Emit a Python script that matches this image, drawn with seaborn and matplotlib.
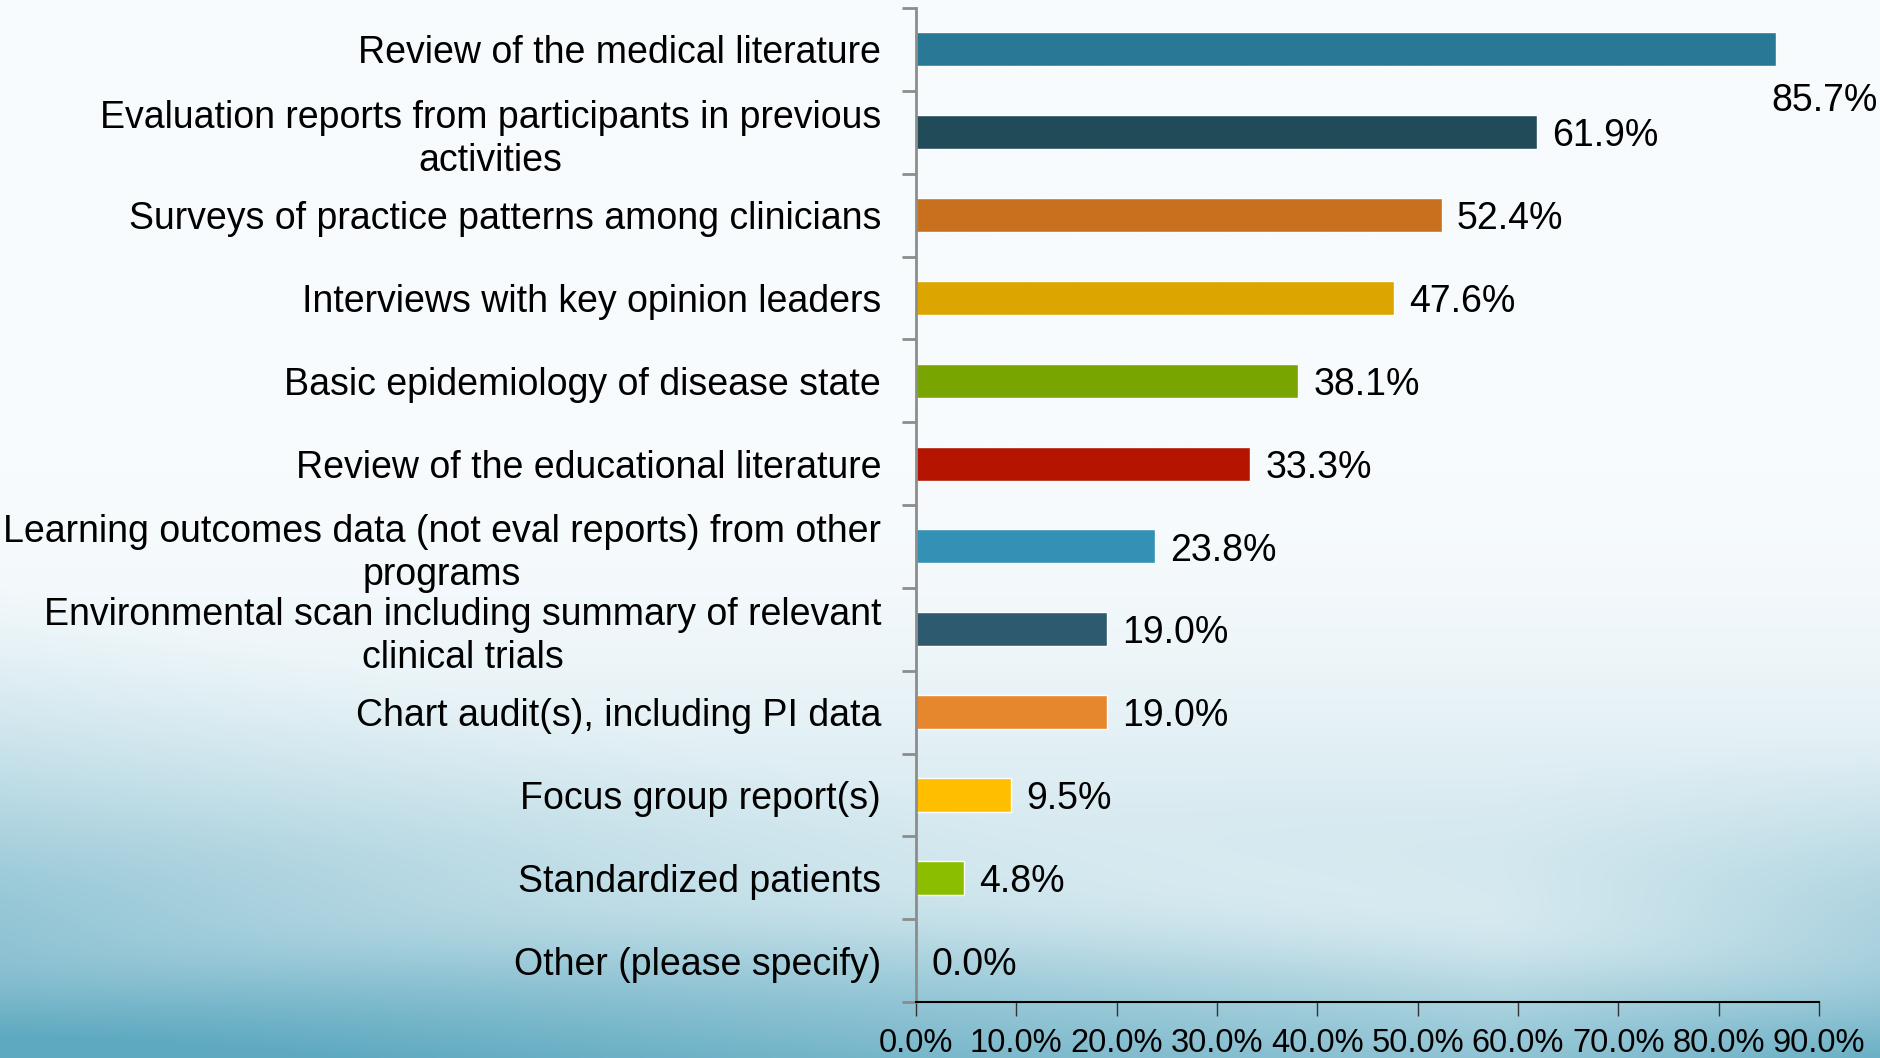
import numpy as np
import pandas as pd
import matplotlib.pyplot as plt
import matplotlib.colors as mcolors
import seaborn as sns

sns.set_theme(style="white")
plt.rcParams['font.family'] = ['Liberation Sans', 'DejaVu Sans']
plt.rcParams['text.color'] = 'black'

# Data
categories = [
    "Review of the medical literature",
    "Evaluation reports from participants in previous\nactivities",
    "Surveys of practice patterns among clinicians",
    "Interviews with key opinion leaders",
    "Basic epidemiology of disease state",
    "Review of the educational literature",
    "Learning outcomes data (not eval reports) from other\nprograms",
    "Environmental scan including summary of relevant\nclinical trials",
    "Chart audit(s), including PI data",
    "Focus group report(s)",
    "Standardized patients",
    "Other (please specify)",
]
values = [85.7, 61.9, 52.4, 47.6, 38.1, 33.3, 23.8, 19.0, 19.0, 9.5, 4.8, 0.0]
bar_colors = ["#287896", "#224b5a", "#c8701e", "#dca500", "#78a500", "#b41400",
              "#3291b4", "#2d5a6e", "#e6872d", "#ffbe00", "#8cbe00", "#3291b4"]
x_ticks = [0, 10, 20, 30, 40, 50, 60, 70, 80, 90]

df = pd.DataFrame({"category": categories, "value": values})

fig = plt.figure(figsize=(18.8, 10.58), dpi=100)

# slide-style background gradient
bg = fig.add_axes([0, 0, 1, 1], zorder=-10)
h, w = 300, 530
yy, xx = np.mgrid[0:1:complex(0, h), 0:1:complex(0, w)]
base = np.clip((yy - 0.45) / 0.55, 0, 1) ** 1.8 * 0.55
# darker sweep in the bottom-left corner, lighter swoosh across the middle
corner = np.clip((yy - 0.55) / 0.45 - xx * 0.9, 0, 1) ** 1.2 * 0.55
swoosh = np.exp(-((yy - (0.86 + 0.25 * (xx - 0.5) ** 2)) / 0.06) ** 2) * 0.12
right = np.clip((xx - 0.8) / 0.2, 0, 1) * np.clip((yy - 0.7) / 0.3, 0, 1) * 0.35
t = np.clip(base + corner + right - swoosh, 0, 1)
top = np.array(mcolors.to_rgb("#f7fbfd"))
bot = np.array(mcolors.to_rgb("#5ea9c0"))
img = top[None, None, :] * (1 - t[..., None]) + bot[None, None, :] * t[..., None]
bg.imshow(img, aspect="auto", extent=[0, 1, 0, 1], origin="upper", interpolation="bilinear")
bg.axis("off")

ax = fig.add_axes([0.4872, 0.0529, 0.4803, 0.9395])
ax.patch.set_alpha(0)
sns.barplot(data=df, y="category", x="value", hue="category", palette=bar_colors,
            legend=False, width=0.41, ax=ax, orient="h", saturation=1)

ax.set_xlim(0, 90)
ax.set_ylim(len(categories) - 0.5, -0.5)
ax.set_xticks(x_ticks)
ax.set_xticklabels([f"{v:.1f}%" for v in x_ticks], fontsize=23.5)
ax.set_xlabel("")
ax.set_ylabel("")

# y ticks at category boundaries, labels centered on bars
ax.set_yticks(np.arange(-0.5, len(categories), 1), minor=False)
ax.set_yticklabels([])
ax.set_yticks(np.arange(len(categories)), minor=True)
ax.set_yticklabels(categories, minor=True, fontsize=27, linespacing=1.25)
for lbl in ax.get_yticklabels(minor=True):
    lbl.set_multialignment("center")
ax.tick_params(axis="y", which="minor", length=0, pad=25, labelcolor="black")
ax.tick_params(axis="y", which="major", length=10, width=2, color="#8c8c8c", direction="out", left=True)
ax.tick_params(axis="x", length=10, width=1, color="#333333", direction="out", bottom=True, pad=9,
               labelcolor="black")

for s in ["top", "right"]:
    ax.spines[s].set_visible(False)
ax.spines["left"].set_color("#8c8c8c")
ax.spines["left"].set_linewidth(2)
ax.spines["bottom"].set_color("black")
ax.spines["bottom"].set_linewidth(1.5)

# data labels
for i, v in enumerate(values):
    if i == 0:
        ax.annotate(f"{v:.1f}%", xy=(v, i), xytext=(-3, -37), textcoords="offset points",
                    ha="left", va="center", fontsize=27, color="black")
    else:
        ax.annotate(f"{v:.1f}%", xy=(v, i), xytext=(11, -3), textcoords="offset points",
                    ha="left", va="center", fontsize=27, color="black")

fig.savefig("out.png", dpi=100)
